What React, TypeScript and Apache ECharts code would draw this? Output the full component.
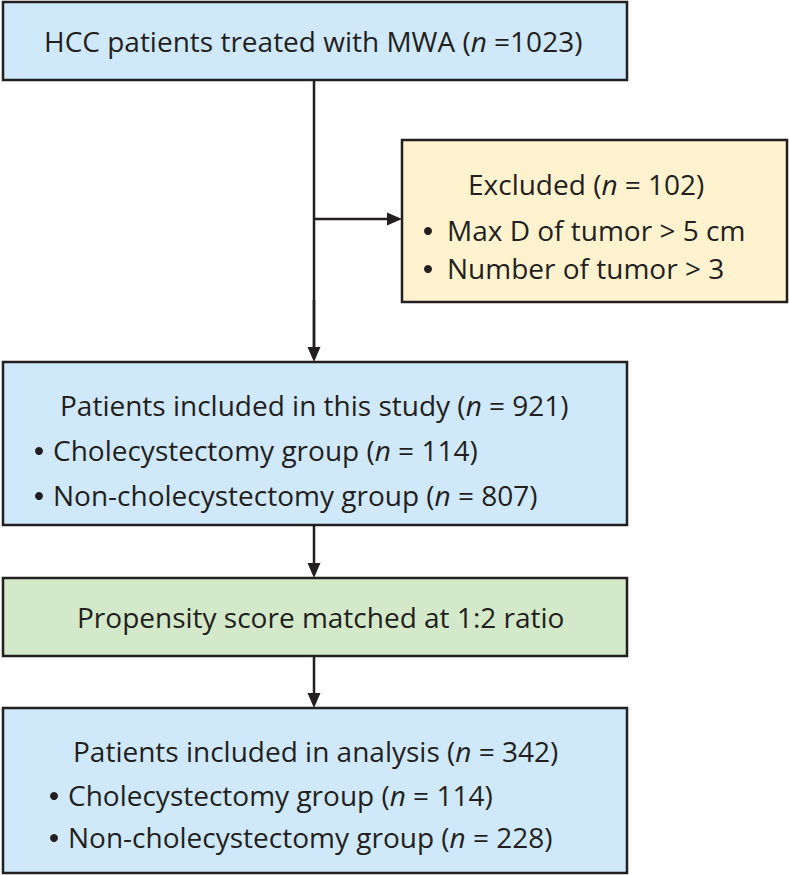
import React, { useEffect, useRef } from "react";
import * as echarts from "echarts";

// ---- data ----
const totalLabel = "HCC patients treated with MWA";
const totalN = "1023";
const excludedLabel = "Excluded";
const excludedN = "102";
const exclusionReasons = ["Max D of tumor > 5 cm", "Number of tumor > 3"];
const includedLabel = "Patients included in this study";
const includedN = "921";
const groupNames = ["Cholecystectomy group", "Non-cholecystectomy group"];
const includedGroupN = ["114", "807"];
const matchLabel = "Propensity score matched at 1:2 ratio";
const analysisLabel = "Patients included in analysis";
const analysisN = "342";
const analysisGroupN = ["114", "228"];

const FONT = "'Open Sans', 'Noto Sans', sans-serif";
const INK = "#231f20";
const FS = 28;

function box(x0: number, y0: number, x1: number, y1: number, fill: string) {
  return {
    type: "rect",
    shape: { x: x0, y: y0, width: x1 - x0, height: y1 - y0 },
    style: { fill, stroke: INK, lineWidth: 2.5 },
  };
}

function txt(x: number, y: number, text: string, align = "left", fs = FS) {
  return {
    type: "text",
    x,
    y,
    style: {
      text,
      x: 0,
      y: 0,
      fill: INK,
      fontSize: fs,
      fontFamily: FONT,
      align,
      verticalAlign: "middle",
      rich: {
        i: { fontStyle: "italic", fontSize: fs, fontFamily: FONT, fill: INK },
      },
    },
  };
}

function bullet(cx: number, cy: number) {
  return { type: "circle", shape: { cx, cy: cy + 1, r: 4 }, style: { fill: INK } };
}

function vArrow(x: number, y0: number, y1: number) {
  return [
    { type: "line", shape: { x1: x, y1: y0, x2: x, y2: y1 - 12 }, style: { stroke: INK, lineWidth: 2.5 } },
    { type: "polygon", shape: { points: [[x - 6.5, y1 - 15], [x + 6.5, y1 - 15], [x, y1]] }, style: { fill: INK } },
  ];
}

function hArrow(y: number, x0: number, x1: number) {
  return [
    { type: "line", shape: { x1: x0, y1: y, x2: x1 - 12, y2: y }, style: { stroke: INK, lineWidth: 2.5 } },
    { type: "polygon", shape: { points: [[x1 - 15, y - 6.5], [x1 - 15, y + 6.5], [x1, y]] }, style: { fill: INK } },
  ];
}

const nPart = (n: string) => `({i|n} = ${n})`;

export default function App() {
  const ref = useRef<HTMLDivElement>(null);
  useEffect(() => {
    if (!ref.current) return;
    const chart = echarts.init(ref.current, null, { renderer: "svg" });
    const cx = 314;
    const R = 627;
    const els: any[] = [
      // connectors
      { type: "line", shape: { x1: cx, y1: 80, x2: cx, y2: 350 }, style: { stroke: INK, lineWidth: 2.5 } },
      ...vArrow(cx, 300, 362),
      ...hArrow(219, cx, 402),
      ...vArrow(cx, 525, 578),
      ...vArrow(cx, 656, 708),
      // boxes
      box(3, 2, R, 80, "#cfe9fa"),
      box(402, 140, 787, 302, "#fff3cf"),
      box(3, 362, R, 525, "#cfe9fa"),
      box(3, 578, R, 656, "#d3e9c9"),
      box(3, 708, R, 873, "#cfe9fa"),
      // box 1
      txt(44, 41, `${totalLabel} ({i|n} =${totalN})`),
      // excluded
      txt(468, 184, `${excludedLabel} ${nPart(excludedN)}`),
      bullet(428, 230),
      txt(447, 230, exclusionReasons[0]),
      bullet(428, 268),
      txt(447, 268, exclusionReasons[1]),
      // included
      txt(60, 405, `${includedLabel} ${nPart(includedN)}`),
      bullet(39, 450),
      txt(53, 450, `${groupNames[0]} ${nPart(includedGroupN[0])}`),
      bullet(39, 495),
      txt(53, 495, `${groupNames[1]} ${nPart(includedGroupN[1])}`),
      // matching
      txt(77, 617, matchLabel),
      // analysis
      txt(73, 751, `${analysisLabel} ${nPart(analysisN)}`),
      bullet(54, 795),
      txt(68, 795, `${groupNames[0]} ${nPart(analysisGroupN[0])}`),
      bullet(54, 837),
      txt(68, 837, `${groupNames[1]} ${nPart(analysisGroupN[1])}`),
    ];
    chart.setOption({
      animation: false,
      graphic: { elements: els },
    });
    return () => chart.dispose();
  }, []);
  return (
    <div
      ref={ref}
      style={{ position: "absolute", left: 0, top: 0, width: 789, height: 875, background: "#fff" }}
    />
  );
}
